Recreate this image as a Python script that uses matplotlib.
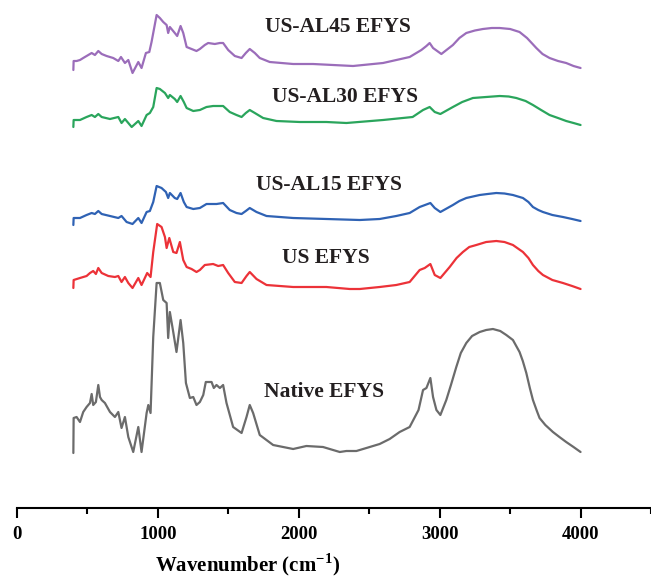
import matplotlib.pyplot as plt
from matplotlib.ticker import MultipleLocator

plt.rcParams['font.family'] = ['Liberation Serif', 'DejaVu Serif']
plt.rcParams['mathtext.fontset'] = 'custom'
plt.rcParams['mathtext.rm'] = 'Liberation Serif'
plt.rcParams['mathtext.bf'] = 'Liberation Serif:bold'

# FTIR spectra (wavenumber in cm-1, stacked absorbance in a.u.)
wn_native = [400, 402, 423, 447, 470, 494, 518, 530, 541, 560, 577, 589, 601, 624, 660, 695, 719, 742, 766, 790,
             825, 861, 884, 920, 932, 948, 967, 991, 1014, 1038, 1062, 1073, 1085, 1109, 1132, 1161, 1180, 1199,
             1227, 1251, 1274, 1298, 1322, 1340, 1381, 1397, 1416, 1440, 1463, 1487, 1534, 1594, 1629, 1652, 1676,
             1723, 1818, 1960, 2054, 2172, 2291, 2338, 2409, 2480, 2574, 2645, 2716, 2787, 2850, 2882, 2906, 2934,
             2953, 2977, 3005, 3047, 3080, 3118, 3150, 3189, 3230, 3284, 3330, 3378, 3430, 3473, 3520, 3567, 3590,
             3615, 3640, 3662, 3690, 3709, 3750, 3804, 3850, 3898, 3950, 4000]
ab_native = [0.55, 0.90, 0.91, 0.86, 0.96, 1.01, 1.05, 1.14, 1.03, 1.06, 1.23, 1.11, 1.08, 1.05, 0.96, 0.91, 0.96,
             0.80, 0.91, 0.71, 0.56, 0.81, 0.56, 0.95, 1.03, 0.95, 1.71, 2.25, 2.25, 2.08, 2.05, 1.70, 1.96, 1.76,
             1.56, 1.88, 1.65, 1.25, 1.10, 1.11, 1.03, 1.06, 1.13, 1.26, 1.26, 1.20, 1.23, 1.20, 1.23, 1.05, 0.81,
             0.75, 0.91, 1.03, 0.95, 0.73, 0.63, 0.59, 0.62, 0.61, 0.56, 0.57, 0.57, 0.60, 0.64, 0.69, 0.76, 0.81,
             0.98, 1.18, 1.20, 1.30, 1.11, 0.98, 0.93, 1.08, 1.23, 1.41, 1.55, 1.65, 1.72, 1.76, 1.78, 1.79, 1.77,
             1.73, 1.68, 1.56, 1.47, 1.35, 1.20, 1.08, 0.97, 0.90, 0.83, 0.76, 0.71, 0.66, 0.61, 0.56]

wn_us = [400, 402, 447, 494, 518, 541, 560, 577, 601, 648, 695, 719, 742, 766, 790, 820, 861, 884, 924, 948, 967,
         995, 1026, 1050, 1062, 1081, 1109, 1132, 1156, 1180, 1204, 1239, 1274, 1298, 1333, 1392, 1428, 1463, 1499,
         1546, 1594, 1629, 1652, 1700, 1771, 1960, 2196, 2362, 2433, 2574, 2692, 2787, 2858, 2894, 2934, 2965,
         3005, 3071, 3120, 3165, 3210, 3260, 3330, 3402, 3460, 3520, 3591, 3630, 3662, 3700, 3733, 3800, 3875,
         3940, 4000]
ab_us = [2.20, 2.28, 2.30, 2.32, 2.35, 2.37, 2.34, 2.40, 2.35, 2.32, 2.31, 2.32, 2.26, 2.31, 2.25, 2.20, 2.30, 2.23,
         2.35, 2.31, 2.56, 2.84, 2.81, 2.71, 2.60, 2.70, 2.56, 2.55, 2.66, 2.48, 2.41, 2.39, 2.36, 2.38, 2.43, 2.44,
         2.42, 2.43, 2.35, 2.26, 2.25, 2.32, 2.36, 2.29, 2.23, 2.21, 2.21, 2.19, 2.19, 2.21, 2.23, 2.26, 2.38, 2.40,
         2.44, 2.33, 2.30, 2.41, 2.50, 2.56, 2.61, 2.63, 2.66, 2.67, 2.66, 2.63, 2.56, 2.50, 2.43, 2.37, 2.33, 2.28,
         2.25, 2.22, 2.19]

wn_al15 = [400, 402, 447, 494, 530, 553, 577, 601, 660, 719, 742, 778, 820, 861, 884, 920, 943, 967, 991, 1026,
           1057, 1073, 1085, 1120, 1137, 1161, 1184, 1204, 1251, 1298, 1345, 1416, 1463, 1510, 1558, 1594, 1624,
           1652, 1700, 1771, 1960, 2196, 2433, 2574, 2692, 2787, 2858, 2934, 2965, 3005, 3094, 3140, 3189, 3284,
           3340, 3402, 3460, 3520, 3591, 3630, 3662, 3700, 3733, 3800, 3875, 3940, 4000]
ab_al15 = [2.83, 2.90, 2.90, 2.93, 2.95, 2.94, 2.97, 2.94, 2.92, 2.90, 2.92, 2.86, 2.84, 2.90, 2.85, 2.96, 2.97,
           3.06, 3.22, 3.20, 3.16, 3.10, 3.15, 3.10, 3.09, 3.15, 3.06, 3.01, 2.99, 3.00, 3.04, 3.04, 3.05, 2.98,
           2.95, 2.94, 2.97, 3.00, 2.96, 2.92, 2.90, 2.89, 2.88, 2.89, 2.92, 2.95, 3.01, 3.05, 3.00, 2.96, 3.03,
           3.07, 3.10, 3.13, 3.14, 3.15, 3.145, 3.13, 3.10, 3.06, 3.01, 2.98, 2.96, 2.93, 2.91, 2.89, 2.87]

wn_al30 = [400, 402, 447, 494, 530, 553, 577, 601, 660, 719, 742, 766, 814, 861, 884, 920, 943, 967, 991, 1014,
           1050, 1073, 1085, 1120, 1137, 1161, 1184, 1204, 1251, 1298, 1345, 1392, 1463, 1510, 1558, 1594, 1624,
           1652, 1688, 1747, 1842, 2007, 2196, 2338, 2598, 2808, 2882, 2929, 2965, 3005, 3094, 3160, 3236, 3330,
           3426, 3490, 3544, 3610, 3662, 3720, 3780, 3840, 3898, 3950, 4000]
ab_al30 = [3.81, 3.88, 3.88, 3.91, 3.93, 3.91, 3.94, 3.91, 3.89, 3.91, 3.85, 3.89, 3.81, 3.87, 3.82, 3.93, 3.95,
           4.01, 4.20, 4.19, 4.15, 4.10, 4.13, 4.09, 4.06, 4.12, 4.06, 4.00, 3.97, 3.98, 4.01, 4.02, 4.02, 3.96,
           3.93, 3.91, 3.95, 3.98, 3.95, 3.90, 3.87, 3.86, 3.86, 3.85, 3.88, 3.91, 3.98, 4.01, 3.96, 3.94, 4.01,
           4.06, 4.10, 4.11, 4.12, 4.115, 4.10, 4.07, 4.03, 3.98, 3.93, 3.90, 3.87, 3.85, 3.83]

wn_al45 = [400, 402, 423, 447, 470, 494, 530, 553, 577, 601, 636, 683, 719, 738, 766, 790, 820, 861, 884, 915, 939,
           955, 991, 1014, 1038, 1062, 1073, 1085, 1120, 1137, 1161, 1180, 1204, 1239, 1274, 1298, 1333, 1357,
           1404, 1440, 1463, 1499, 1546, 1594, 1624, 1652, 1688, 1723, 1794, 1960, 2101, 2243, 2385, 2598, 2787,
           2870, 2906, 2929, 2953, 3012, 3094, 3140, 3189, 3250, 3307, 3370, 3426, 3500, 3567, 3620, 3686, 3730,
           3780, 3840, 3898, 3950, 4000]
ab_al45 = [4.38, 4.47, 4.47, 4.48, 4.50, 4.52, 4.55, 4.53, 4.57, 4.54, 4.52, 4.50, 4.47, 4.51, 4.45, 4.48, 4.35,
           4.46, 4.40, 4.55, 4.56, 4.66, 4.93, 4.90, 4.86, 4.83, 4.75, 4.81, 4.75, 4.72, 4.82, 4.75, 4.61, 4.59,
           4.57, 4.59, 4.63, 4.65, 4.64, 4.65, 4.65, 4.58, 4.52, 4.50, 4.55, 4.59, 4.55, 4.50, 4.46, 4.44, 4.44,
           4.43, 4.42, 4.45, 4.51, 4.58, 4.62, 4.65, 4.60, 4.54, 4.63, 4.70, 4.75, 4.775, 4.79, 4.80, 4.80, 4.79,
           4.76, 4.70, 4.60, 4.54, 4.50, 4.47, 4.45, 4.42, 4.40]

labels = ['Native EFYS', 'US EFYS', 'US-AL15 EFYS', 'US-AL30 EFYS', 'US-AL45 EFYS']
colors = ['#6b6b6b', '#ec3238', '#2f62b4', '#2aa55c', '#9b6dba']
label_x = [2177, 2191, 2213, 2326, 2277]
label_y = [1.16, 2.50, 3.23, 4.11, 4.81]

fig = plt.figure(figsize=(6.51, 5.86), dpi=100)
ax = fig.add_axes([17 / 651, 78 / 586, 634 / 651, 508 / 586])

series = [(wn_native, ab_native), (wn_us, ab_us), (wn_al15, ab_al15), (wn_al30, ab_al30), (wn_al45, ab_al45)]
for (wn, ab), c in zip(series, colors):
    ax.plot(wn, ab, color=c, lw=1.6, solid_joinstyle='round', solid_capstyle='round')

for name, x, y in zip(labels, label_x, label_y):
    ax.text(x, y, name, ha='center', va='center', fontsize=15.5, fontweight='bold', color='#231f20')

ax.set_xlim(0, 4500)
ax.set_ylim(0, 5.08)
for s in ['left', 'right', 'top']:
    ax.spines[s].set_visible(False)
ax.spines['bottom'].set_linewidth(1.5)
ax.set_yticks([])
ax.xaxis.set_major_locator(MultipleLocator(1000))
ax.xaxis.set_minor_locator(MultipleLocator(500))
ax.tick_params(axis='x', which='major', length=7, width=1.5, pad=6, labelsize=13.5)
ax.tick_params(axis='x', which='minor', length=4, width=1.5)
for lab in ax.get_xticklabels():
    lab.set_fontweight('bold')
ax.set_xlabel(r'Wavenumber (cm$^{\mathbf{-1}}$)', fontsize=15, fontweight='bold')
ax.xaxis.set_label_coords(0.364, -0.085)

fig.savefig('out.png', dpi=100)
